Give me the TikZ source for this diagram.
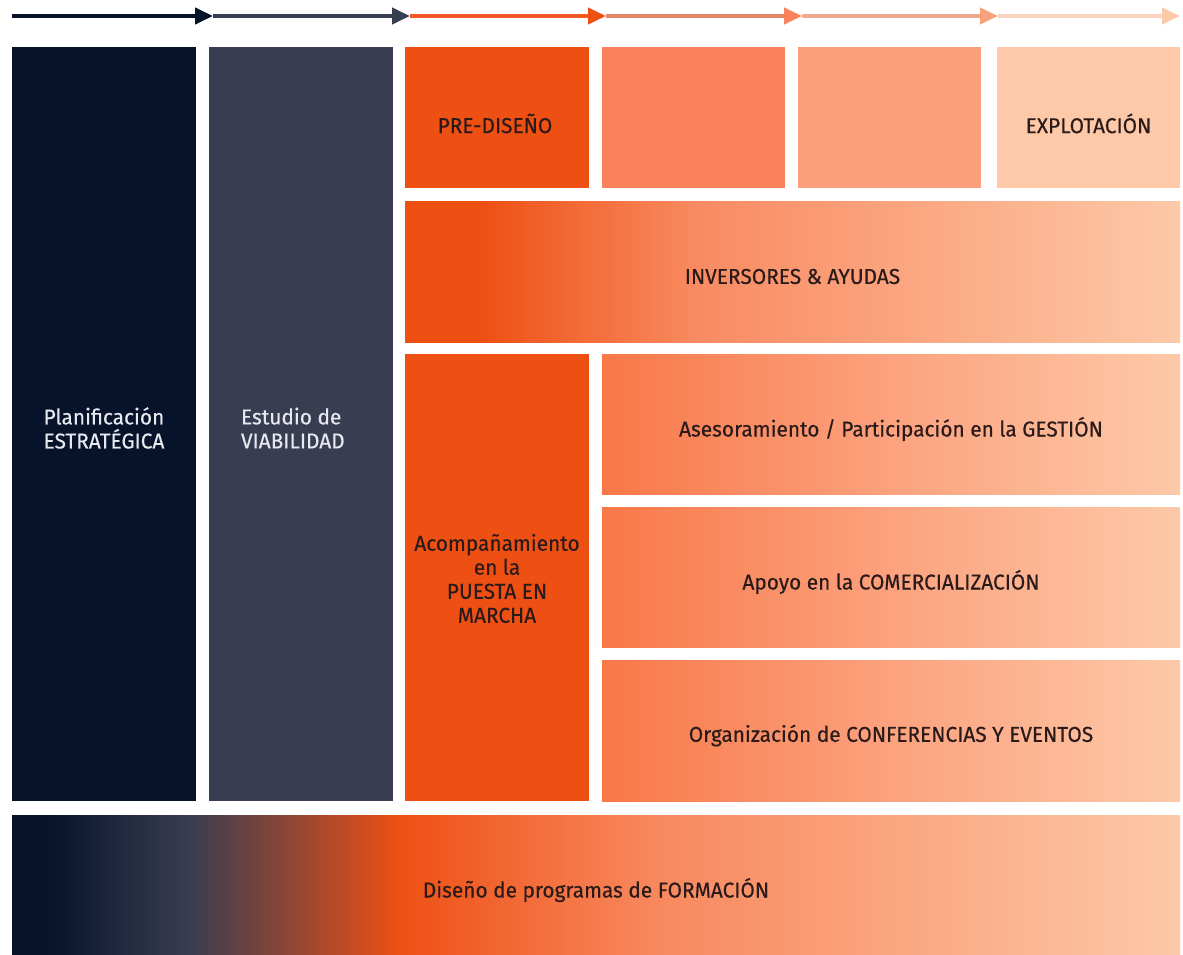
\documentclass[tikz,border=0pt]{standalone}
\usepackage{fontspec}
\setmainfont[FakeStretch=0.97,FakeBold=0.35]{Fira Sans}
\usetikzlibrary{arrows.meta}
\definecolor{navy}{HTML}{06132B}
\definecolor{slate}{HTML}{393D52}
\definecolor{orng}{HTML}{EE5014}
\definecolor{orngB}{HTML}{F9825A}
\definecolor{orngC}{HTML}{FBA07D}
\definecolor{peach}{HTML}{FDC9A8}
\definecolor{txtdark}{HTML}{2B1A1A}
\definecolor{txtlight}{HTML}{E8E9EE}
\definecolor{segC}{HTML}{EE5A22}
\definecolor{segD}{HTML}{E3886A}
\definecolor{segE}{HTML}{F0A98C}
\definecolor{segF}{HTML}{F9D2BC}
\definecolor{bandmid}{HTML}{F8885E}
\definecolor{invmid}{HTML}{F98B62}
\definecolor{rowleft}{HTML}{F87848}
\definecolor{rowmid}{HTML}{FCA27E}
\pgfdeclarehorizontalshading{bandshade}{100bp}{color(0bp)=(navy); color(25bp)=(navy); color(26.5bp)=(navy); color(32.6bp)=(slate); color(41.6bp)=(orng); color(52.5bp)=(bandmid); color(75bp)=(peach); color(100bp)=(peach)}
\pgfdeclarehorizontalshading{invshade}{100bp}{color(0bp)=(orng); color(25bp)=(orng); color(30bp)=(orng); color(44bp)=(invmid); color(75bp)=(peach); color(100bp)=(peach)}
\pgfdeclarehorizontalshading{rowshade}{100bp}{color(0bp)=(rowleft); color(25bp)=(rowleft); color(50bp)=(rowmid); color(75bp)=(peach); color(100bp)=(peach)}
\tikzset{
  box/.style={rectangle, inner sep=0pt, draw=none},
  txt/.style={inner sep=0pt, font=\fontsize{21.5}{24}\selectfont, text=txtdark, align=center},
  txtw/.style={txt, text=txtlight, align=left},
  seg/.style={line width=4pt, -{Triangle[length=18pt,width=16pt]}}
}
\begin{document}
\begin{tikzpicture}[x=1pt,y=-1pt]
\useasboundingbox (0,0) rectangle (1183,955);
% timeline
\coordinate (a0) at (12,16);
\coordinate (a1) at (213,16);
\coordinate (a2) at (410,16);
\coordinate (a3) at (606,16);
\coordinate (a4) at (802,16);
\coordinate (a5) at (998,16);
\coordinate (a6) at (1180,16);
\draw[seg, draw=navy, -{Triangle[length=18pt,width=16pt,color=navy]}] (a0) -- (a1);
\draw[seg, draw=slate, -{Triangle[length=18pt,width=16pt,color=slate]}] (a1) -- (a2);
\draw[seg, draw=segC, -{Triangle[length=18pt,width=16pt,color=orng]}] (a2) -- (a3);
\draw[seg, draw=segD, -{Triangle[length=18pt,width=16pt,color=orngB]}] (a3) -- (a4);
\draw[seg, draw=segE, -{Triangle[length=18pt,width=16pt,color=orngC]}] (a4) -- (a5);
\draw[seg, draw=segF, -{Triangle[length=18pt,width=16pt,color=peach]}] (a5) -- (a6);
% columns
\node[box, fill=navy, minimum width=184pt, minimum height=754pt] (plan) at (104,424) {};
\node[box, fill=slate, minimum width=184pt, minimum height=754pt] (estu) at (301,424) {};
\node[box, fill=orng, minimum width=184pt, minimum height=141pt] (pre) at (497,117.5) {};
\node[box, fill=orngB, minimum width=183pt, minimum height=141pt] (c4) at (693.5,117.5) {};
\node[box, fill=orngC, minimum width=183pt, minimum height=141pt] (c5) at (889.5,117.5) {};
\node[box, fill=peach, minimum width=183pt, minimum height=141pt] (expl) at (1088.5,117.5) {};
\node[box, shade, shading=invshade, minimum width=775pt, minimum height=141pt] (inv) at (792.5,271.5) {};
\node[box, fill=orng, minimum width=184pt, minimum height=447pt] (acom) at (497,577.5) {};
\node[box, shade, shading=rowshade, minimum width=578pt, minimum height=140pt] (ases) at (891,424) {};
\node[box, shade, shading=rowshade, minimum width=578pt, minimum height=140pt] (apoy) at (891,577) {};
\node[box, shade, shading=rowshade, minimum width=578pt, minimum height=141pt] (orga) at (891,730.5) {};
\node[box, shade, shading=bandshade, minimum width=1168pt, minimum height=140pt] (form) at (596,885) {};
% texts
\node[txtw] (tplan) at ([yshift=-4pt]plan.center) {Planificación\\ESTRATÉGICA};
\node[txtw, anchor=west] (testu) at ([xshift=32pt,yshift=-4pt]estu.west) {Estudio de\\VIABILIDAD};
\node[txt] (tpre) at ([xshift=-2pt,yshift=-6pt]pre.center) {PRE-DISEÑO};
\node[txt] (texpl) at ([yshift=-6pt]expl.center) {EXPLOTACIÓN};
\node[txt] (tinv) at ([yshift=-5pt]inv.center) {INVERSORES \& AYUDAS};
\node[txt] (tacom) at ([yshift=-1pt]acom.center) {Acompañamiento\\en la\\PUESTA EN\\MARCHA};
\node[txt] (tases) at ([yshift=-5pt]ases.center) {Asesoramiento / Participación en la GESTIÓN};
\node[txt] (tapoy) at ([yshift=-5pt]apoy.center) {Apoyo en la COMERCIALIZACIÓN};
\node[txt] (torga) at ([yshift=-5pt]orga.center) {Organización de CONFERENCIAS Y EVENTOS};
\node[txt] (tform) at ([yshift=-5pt]form.center) {Diseño de programas de FORMACIÓN};
\end{tikzpicture}
\end{document}
